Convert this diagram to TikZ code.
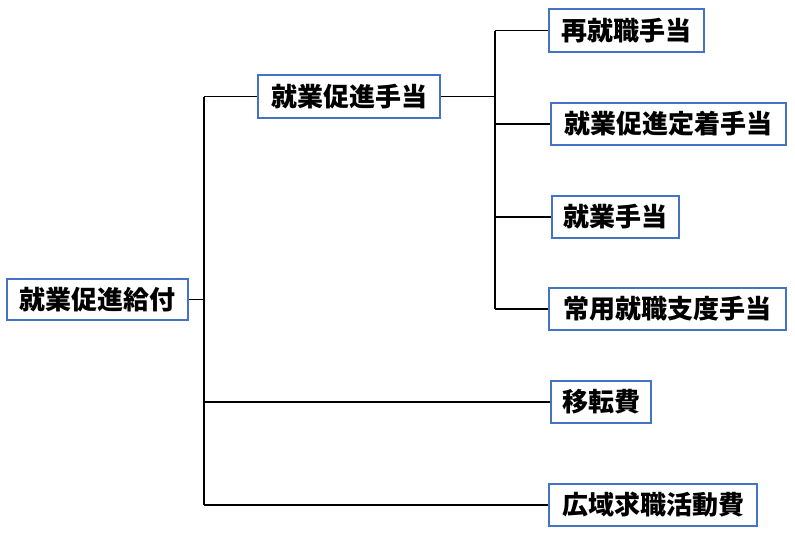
\documentclass[tikz,border=0pt]{standalone}
\usepackage{fontspec}
\newfontfamily\jp{Noto Sans CJK JP}
\definecolor{boxblue}{HTML}{4472C4}
\begin{document}
\begin{tikzpicture}[x=1pt,y=-1pt,
  box/.style={draw=boxblue,line width=1.8pt,fill=white,inner sep=0pt,
    font=\jp\bfseries\fontsize{26}{30}\selectfont,text=black},
  conn/.style={draw=black,line width=1.6pt}]
\useasboundingbox (0,0) rectangle (795,539);
\node[box,minimum width=181,minimum height=41] (root) at (97.5,299.5) {就業促進給付};
\node[box,minimum width=182,minimum height=43] (A) at (349,96.5) {就業促進手当};
\node[box,minimum width=155,minimum height=43] (c1) at (626.5,30.5) {再就職手当};
\node[box,minimum width=235,minimum height=42] (c2) at (668.5,124) {就業促進定着手当};
\node[box,minimum width=127,minimum height=42] (c3) at (615.5,217) {就業手当};
\node[box,minimum width=237,minimum height=42] (c4) at (667.5,309) {常用就職支度手当};
\node[box,minimum width=100,minimum height=42] (c5) at (601,402) {移転費};
\node[box,minimum width=208,minimum height=42] (c6) at (653,505) {広域求職活動費};
\coordinate (t1) at (204,0);
\coordinate (t2) at (495,0);
% main trunk
\draw[conn] (root.east) -- (root.east -| t1);
\draw[conn] (A.west -| t1) -- (c6.west -| t1);
\draw[conn] (A.west -| t1) -- (A.west);
\draw[conn] (c5.west -| t1) -- (c5.west);
\draw[conn] (c6.west -| t1) -- (c6.west);
% sub trunk
\draw[conn] (A.east) -- (A.east -| t2);
\draw[conn] (c1.west -| t2) -- (c4.west -| t2);
\draw[conn] (c1.west -| t2) -- (c1.west);
\draw[conn] (c2.west -| t2) -- (c2.west);
\draw[conn] (c3.west -| t2) -- (c3.west);
\draw[conn] (c4.west -| t2) -- (c4.west);
\end{tikzpicture}
\end{document}
